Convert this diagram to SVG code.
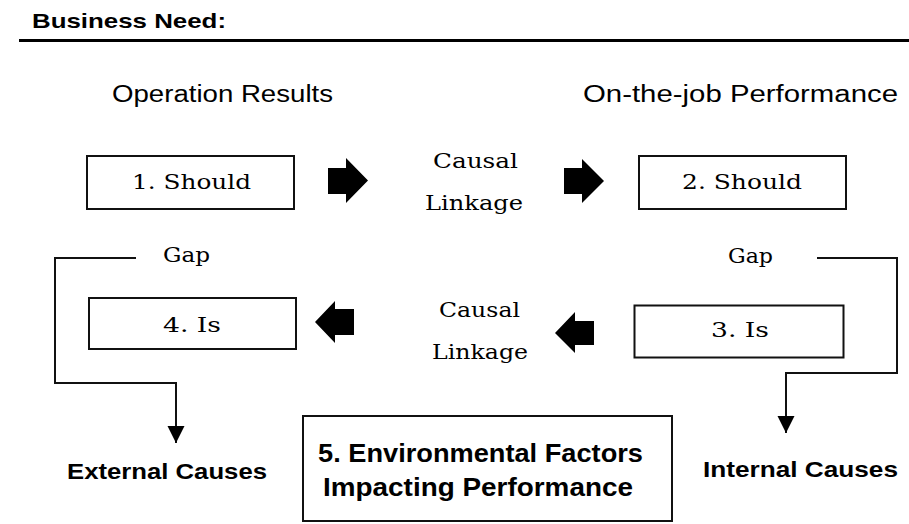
<svg xmlns="http://www.w3.org/2000/svg" width="909" height="524" viewBox="0 0 909 524">
<style>
.sans{font-family:"Liberation Sans",Arial,sans-serif;fill:#000}
.serif{font-family:"DejaVu Serif","Liberation Serif",serif;font-size:21px;fill:#000}
.box{fill:#fff;stroke:#111;stroke-width:2}
.conn{fill:none;stroke:#111;stroke-width:2}
.blk{fill:#000}
</style>
<defs>
<marker id="ah" markerUnits="userSpaceOnUse" markerWidth="18" markerHeight="18" refX="17" refY="8.5" orient="auto">
<path d="M0,0 L17,8.5 L0,17 z" fill="#000"/>
</marker>
</defs>
<rect width="909" height="524" fill="#fff"/>
<g id="header">
<text class="sans" x="32" y="28" font-size="21" font-weight="bold" textLength="194" lengthAdjust="spacingAndGlyphs">Business Need:</text>
<line x1="19" y1="40.5" x2="909" y2="40.5" stroke="#000" stroke-width="3"/>
</g>
<g id="col-left-title"><text class="sans" x="112" y="102" font-size="23" textLength="221" lengthAdjust="spacingAndGlyphs">Operation Results</text></g>
<g id="col-right-title"><text class="sans" x="583" y="102" font-size="23" textLength="315" lengthAdjust="spacingAndGlyphs">On-the-job Performance</text></g>
<g id="node1"><rect class="box" x="87" y="156" width="207" height="53"/><text class="serif" x="191.5" y="189" text-anchor="middle" textLength="119" lengthAdjust="spacingAndGlyphs">1. Should</text></g>
<g id="node2"><rect class="box" x="639" y="156" width="207" height="53"/><text class="serif" x="742" y="189" text-anchor="middle" textLength="120" lengthAdjust="spacingAndGlyphs">2. Should</text></g>
<g id="node3"><rect class="box" x="634.5" y="305.5" width="209" height="52"/><text class="serif" x="740" y="337" text-anchor="middle" textLength="58" lengthAdjust="spacingAndGlyphs">3. Is</text></g>
<g id="node4"><rect class="box" x="89" y="298" width="207" height="51"/><text class="serif" x="192" y="332" text-anchor="middle" textLength="58" lengthAdjust="spacingAndGlyphs">4. Is</text></g>
<g id="node5"><rect class="box" x="303" y="416" width="369" height="105"/>
<text class="sans" x="480.5" y="462" font-size="26" font-weight="bold" text-anchor="middle" textLength="325" lengthAdjust="spacingAndGlyphs">5. Environmental Factors</text>
<text class="sans" x="478" y="496" font-size="26" font-weight="bold" text-anchor="middle" textLength="310" lengthAdjust="spacingAndGlyphs">Impacting Performance</text></g>
<g id="link-top"><text class="serif" x="475.5" y="168" text-anchor="middle" textLength="85" lengthAdjust="spacingAndGlyphs">Causal</text><text class="serif" x="474" y="210" text-anchor="middle" textLength="98" lengthAdjust="spacingAndGlyphs">Linkage</text></g>
<g id="link-bottom"><text class="serif" x="479.5" y="317" text-anchor="middle" textLength="81" lengthAdjust="spacingAndGlyphs">Causal</text><text class="serif" x="480" y="359" text-anchor="middle" textLength="96" lengthAdjust="spacingAndGlyphs">Linkage</text></g>
<g id="gap-left"><text class="serif" x="186.5" y="262" text-anchor="middle" textLength="47" lengthAdjust="spacingAndGlyphs">Gap</text></g>
<g id="gap-right"><text class="serif" x="750.5" y="263" text-anchor="middle" textLength="45" lengthAdjust="spacingAndGlyphs">Gap</text></g>
<g id="external"><text class="sans" x="67" y="479" font-size="22" font-weight="bold" textLength="200" lengthAdjust="spacingAndGlyphs">External Causes</text></g>
<g id="internal"><text class="sans" x="703" y="477" font-size="22" font-weight="bold" textLength="195" lengthAdjust="spacingAndGlyphs">Internal Causes</text></g>
<g id="connectors">
<polygon class="blk" points="328,168 346,168 346,158 368,180.5 346,203 346,194 328,194"/>
<polygon class="blk" points="564,168 582,168 582,159 604,181 582,203 582,194 564,194"/>
<polygon class="blk" points="354,309 335,309 335,301 315,322 335,343 335,335 354,335"/>
<polygon class="blk" points="594,321 575,321 575,312 555,333 575,353 575,345 594,345"/>
<polyline class="conn" points="136,258 55,258 55,383 176,383 176,443" marker-end="url(#ah)"/>
<polyline class="conn" points="817,258 897,258 897,373 786,373 786,433" marker-end="url(#ah)"/>
</g>
</svg>
